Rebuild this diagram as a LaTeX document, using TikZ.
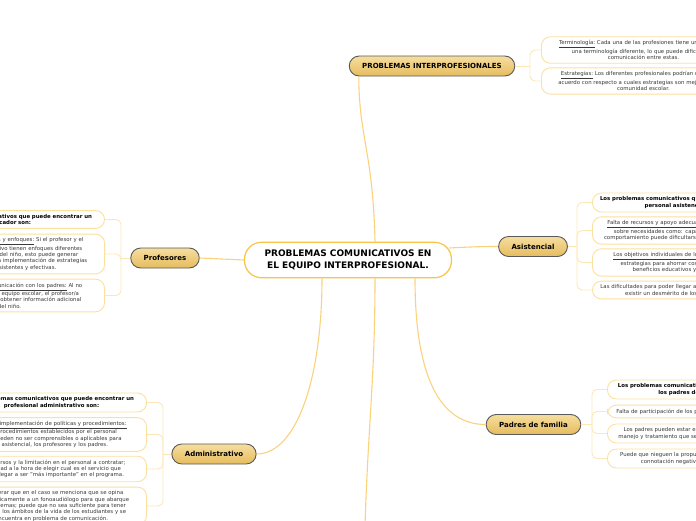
\documentclass[tikz,border=0pt]{standalone}
\usepackage{fontspec}
\setmainfont{DejaVu Sans}
\definecolor{oro}{HTML}{F8C443}
\definecolor{orolinea}{HTML}{FBD27C}
\definecolor{ramita}{HTML}{FDE7B6}
\definecolor{borde}{HTML}{FCE0A0}
\definecolor{temaA}{HTML}{F6DE9F}
\definecolor{temaB}{HTML}{E5BC5E}
\definecolor{texto}{HTML}{3A3A3A}

\begin{document}
\begin{tikzpicture}[x=1pt,y=-1pt]
\tikzstyle{centro}=[draw=oro, line width=1.2pt, fill=white, rounded corners=17pt, inner xsep=20pt, inner ysep=8pt, align=center, font=\fontsize{9}{11.5}\selectfont\bfseries]
\tikzstyle{tema}=[draw=black!65, line width=0.9pt, top color=temaA, bottom color=temaB, rounded corners=10pt, minimum height=20pt, inner xsep=13pt, font=\fontsize{7}{8}\selectfont\bfseries]
\tikzstyle{hoja}=[draw=borde, line width=0.9pt, fill=white, rounded corners=9pt, inner xsep=5pt, inner ysep=3.7pt, text width=170pt, align=center, text=texto, font=\fontsize{5.4}{6.3}\selectfont]
\tikzstyle{hojaancha}=[hoja, text width=194pt]
\tikzstyle{hojaizq}=[hoja, text width=180pt]
\tikzstyle{titulo}=[hoja, text=black, font=\fontsize{5.4}{6.3}\selectfont\bfseries]
\tikzstyle{enlace}=[draw=orolinea, line width=1.1pt]
\tikzstyle{rama}=[draw=ramita, line width=0.9pt, rounded corners=5pt]
\useasboundingbox (0,0) rectangle (696,520);
\clip (0,0) rectangle (696,520);

% nodo central y temas
\draw (348,260) node (cen) [centro] {PROBLEMAS COMUNICATIVOS EN\\EL EQUIPO INTERPROFESIONAL.};
\draw (432,66) node (pint) [tema] {PROBLEMAS INTERPROFESIONALES};
\draw (165,258) node (prof) [tema] {Profesores};
\draw (533,246.5) node (asis) [tema] {Asistencial};
\draw (533.5,424.5) node (padr) [tema] {Padres de familia};
\draw (214,454) node (admi) [tema] {Administrativo};
\coordinate (abajo) at (365,526);

\draw[enlace] ([xshift=27pt]cen.north) .. controls +(-2,-90) and +(0,60) .. ([xshift=10pt]pint.south west);
\draw[enlace] (cen.west) -- (prof.east);
\draw[enlace] ([shift={(-3pt,12pt)}]cen.east) .. controls +(20,-1) and +(-20,0) .. (asis.west);
\draw[enlace] ([xshift=67pt]cen.south) .. controls +(0,100) and +(-45,0) .. (padr.west);
\draw[enlace] ([xshift=-26pt]cen.south) .. controls +(0,100) and +(40,0) .. (admi.east);
\draw[enlace] ([xshift=27pt]cen.south) .. controls +(0,100) and +(3,-100) .. (abajo);

% problemas interprofesionales
\draw (541,50) node (t1) [hojaancha, anchor=west] {\underline{Terminología:} Cada una de las profesiones tiene un lenguaje y\\una terminología diferente, lo que puede dificultar la\\comunicación entre estas.};
\draw (541,81) node (t2) [hojaancha, anchor=west] {\underline{Estrategias:} Los diferentes profesionales podrían no estar de\\acuerdo con respecto a cuales estrategias son mejores para la\\comunidad escolar.};
\coordinate (jpint) at (530,66);
\draw[rama] (pint.east) -- (jpint);
\draw[rama] (jpint) |- (t1.west);
\draw[rama] (jpint) |- (t2.west);

% profesores
\draw (105,219.5) node (p1) [titulo, text width=180pt, anchor=east] {Los problemas comunicativos que puede encontrar un\\educador son:};
\draw (105,254) node (p2) [hojaizq, anchor=east] {\underline{Diferencias de objetivos y enfoques:} Si el profesor y el\\el personal administrativo tienen enfoques diferentes\\sobre la intervención del niño, esto puede generar\\problemas en cuanto a la implementación de estrategias\\que sean consistentes y efectivas.};
\draw (105,295.5) node (p3) [hojaizq, anchor=east] {\underline{Deficiencias en la comunicación con los padres:} Al no\\estar integrados en el equipo escolar, el profesor/a\\tiene dificultades para obtener información adicional\\del niño.};
\coordinate (jprof) at (121,258);
\draw[rama] (prof.west) -- (jprof);
\draw[rama] (jprof) |- (p1.east);
\draw[rama] (jprof) |- (p2.east);
\draw[rama] (jprof) |- (p3.east);

% administrativo
\draw (147,402.5) node (a1) [titulo, text width=180pt, anchor=east] {Los problemas comunicativos que puede encontrar un\\profesional administrativo son:};
\draw (147,434.5) node (a2) [hojaizq, anchor=east] {\underline{Falta de implementación de políticas y procedimientos:}\\Los procedimientos establecidos por el personal\\que pueden no ser comprensibles o aplicables para\\el asistencial, los profesores y los padres.};
\draw (147,469) node (a3) [hojaizq, anchor=east] {Los recursos y la limitación en el personal a contratar;\\dificultad a la hora de elegir cual es el servicio que\\pueda llegar a ser "más importante" en el programa.};
\draw (147,506) node (a4) [hojaizq, anchor=east] {Considerar que en el caso se menciona que se opina\\llamar únicamente a un fonoaudiólogo para que abarque\\los problemas; puede que no sea suficiente para tener\\en todos los ámbitos de la vida de los estudiantes y se\\encuentra en problema de comunicación.};
\coordinate (jadmi) at (163,454);
\draw[rama] (admi.west) -- (jadmi);
\draw[rama] (jadmi) |- (a1.east);
\draw[rama] (jadmi) |- (a2.east);
\draw[rama] (jadmi) |- (a3.east);
\draw[rama] (jadmi) |- (a4.east);

% asistencial
\draw (592,202.5) node (s1) [titulo, anchor=west] {Los problemas comunicativos que puede encontrar un\\personal asistencial son:};
\draw (592,230.5) node (s2) [hoja, anchor=west] {\underline{Falta de recursos y apoyo adecuado:} La información de\\sobre necesidades como: capacidades, lenguaje y\\comportamiento puede dificultarse sin el apoyo de todos.};
\draw (592,262.5) node (s3) [hoja, anchor=west] {\underline{Los objetivos individuales de los profesionales:} Las\\estrategias para ahorrar costos afectarían los\\beneficios educativos y de los niños.};
\draw (592,290) node (s4) [hoja, anchor=west] {Las dificultades para poder llegar a un acuerdo puede hacer\\existir un desmérito de los otros servicios.};
\coordinate (jasis) at (577,246.5);
\draw[rama] (asis.east) -- (jasis);
\draw[rama] (jasis) |- (s1.west);
\draw[rama] (jasis) |- (s2.west);
\draw[rama] (jasis) |- (s3.west);
\draw[rama] (jasis) |- (s4.west);

% padres de familia
\draw (607,389.5) node (f1) [titulo, anchor=west] {Los problemas comunicativos que pueden encontrar\\los padres de familia son:};
\draw (607,411.5) node (f2) [hoja, anchor=west] {Falta de participación de los padres en el programa escolar.};
\draw (607,433.5) node (f3) [hoja, anchor=west] {Los padres pueden estar en desacuerdo con el tipo de\\manejo y tratamiento que se le da a su hijo en la escuela.};
\draw (607,458.5) node (f4) [hoja, anchor=west] {Puede que nieguen la propuesta debido a que tenga una\\connotación negativa para ellos o su hijo.};
\coordinate (jpadr) at (592,424.5);
\draw[rama] (padr.east) -- (jpadr);
\draw[rama] (jpadr) |- (f1.west);
\draw[rama] (jpadr) |- (f2.west);
\draw[rama] (jpadr) |- (f3.west);
\draw[rama] (jpadr) |- (f4.west);
\end{tikzpicture}
\end{document}
